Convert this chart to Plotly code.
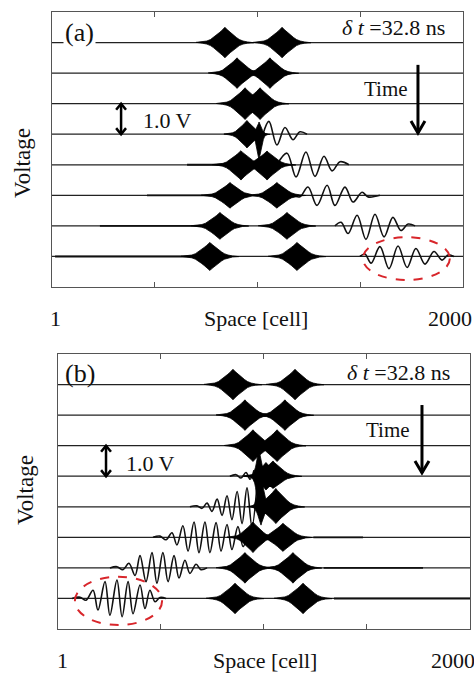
import plotly.graph_objects as go

W, H = 474, 673
FONT = "Liberation Serif"
SPACE_RANGE = [1, 2000]
V_RANGE = [-8.0, 1.0]
TICK_CELLS = [1, 500, 1000, 1500, 2000]
N_TRACES = 8

# generic envelope of a high-frequency pulse (offset in cells, relative amplitude)
PULSE_DX = [0, 8, 16, 28, 42, 56, 70, 88, 110, 140]
PULSE_ENV = [1.0, 0.88, 0.78, 0.64, 0.48, 0.33, 0.2, 0.1, 0.04, 0.012]

# ---------------- panel (a) ----------------
A_PULSE_TRACE = [0, 0, 1, 1, 2, 2, 3, 3, 4, 4, 5, 5, 6, 6, 7, 7]
A_PULSE_CENTER = [842, 1120, 901, 1061, 940, 1013, 949, 1008, 920, 1047, 867, 1095, 818, 1144, 769, 1193]
A_PULSE_UP = [0.5, 0.5, 0.5, 0.5, 0.52, 0.52, 0.45, 0.4, 0.46, 0.45, 0.42, 0.42, 0.44, 0.44, 0.46, 0.46]
A_PULSE_DOWN = [0.5, 0.5, 0.5, 0.5, 0.52, 0.52, 0.45, 0.85, 0.5, 0.5, 0.42, 0.42, 0.44, 0.44, 0.46, 0.46]
A_PULSE_WIDTH = [1, 1, 1, 1, 1, 1, 0.8, 0.3, 1, 1, 1, 1, 1, 1, 1, 1]

A_WAVE_TRACE = [3, 4, 5, 6, 7]
A_WAVE_X = [
    [1027, 1056, 1095, 1134, 1173, 1207, 1241],
    [1095, 1144, 1188, 1236, 1280, 1324, 1363, 1402, 1445],
    [1173, 1207, 1246, 1290, 1339, 1377, 1426, 1465, 1509, 1538, 1596],
    [1377, 1407, 1441, 1485, 1528, 1572, 1616, 1659, 1698, 1733, 1767],
    [1499, 1523, 1553, 1596, 1640, 1684, 1728, 1771, 1815, 1859, 1898, 1927, 1956],
]
A_WAVE_V = [
    [0, 0.42, -0.35, 0.22, -0.18, 0.08, 0],
    [0, 0.38, -0.4, 0.42, -0.38, 0.28, -0.2, 0.1, 0],
    [0, -0.05, 0.27, -0.33, 0.33, -0.33, 0.27, -0.22, 0.1, -0.05, 0],
    [0, 0.12, -0.25, 0.35, -0.44, 0.38, -0.36, 0.28, -0.15, 0.06, 0],
    [0, 0.08, -0.22, 0.32, -0.4, 0.34, -0.36, 0.26, -0.25, 0.16, -0.12, 0.05, 0],
]
A_NOISE_TRACE = [4, 5, 6, 7]
A_NOISE_START = [658, 463, 234, 16]
A_NOISE_END = [880, 830, 780, 730]

# ---------------- panel (b) ----------------
B_PULSE_TRACE = [0, 0, 1, 1, 2, 2, 3, 3, 3, 4, 4, 5, 5, 6, 6, 7, 7]
B_PULSE_CENTER = [850, 1151, 908, 1102, 947, 1064, 976, 1010, 1044, 986, 1058, 947, 1093, 908, 1141, 860, 1190]
B_PULSE_UP = [0.5, 0.5, 0.5, 0.5, 0.52, 0.52, 0.9, 0.45, 0.5, 1.0, 0.6, 0.5, 0.46, 0.5, 0.5, 0.5, 0.5]
B_PULSE_DOWN = [0.5, 0.5, 0.5, 0.5, 0.52, 0.52, 1.1, 0.45, 0.4, 0.6, 0.55, 0.5, 0.46, 0.5, 0.5, 0.5, 0.5]
B_PULSE_WIDTH = [1, 1, 1, 1, 1, 1, 0.3, 0.8, 1, 0.35, 1, 0.9, 1, 1, 1, 1, 1]

B_WAVE_TRACE = [3, 4, 5, 6, 7]
B_WAVE_X = [
    [835, 865, 889, 913, 933, 952],
    [641, 675, 700, 724, 748, 773, 797, 821, 845, 870, 894, 918, 942, 967],
    [462, 496, 525, 554, 578, 607, 632, 661, 685, 714, 738, 768, 792, 821, 845, 874, 899, 923],
    [253, 287, 316, 345, 375, 399, 428, 457, 481, 510, 535, 564, 588, 617, 641, 671, 695, 724],
    [69, 108, 137, 171, 195, 229, 253, 287, 312, 341, 365, 399, 423, 447, 472, 496, 525],
]
B_WAVE_V = [
    [0, 0.05, -0.06, 0.12, -0.1, 0.2],
    [0, 0.03, -0.05, 0.12, -0.15, 0.25, -0.28, 0.36, -0.42, 0.5, -0.55, 0.62, -0.65, 0.75],
    [0, 0.04, -0.08, 0.15, -0.25, 0.38, -0.45, 0.5, -0.5, 0.5, -0.5, 0.48, -0.45, 0.42, -0.4, 0.35, -0.3, 0.2],
    [0, 0.04, -0.06, 0.15, -0.25, 0.4, -0.45, 0.5, -0.5, 0.5, -0.45, 0.4, -0.33, 0.25, -0.18, 0.12, -0.06, 0],
    [0, 0.04, -0.06, 0.27, -0.38, 0.55, -0.55, 0.6, -0.6, 0.55, -0.5, 0.44, -0.33, 0.27, -0.11, 0.03, 0],
]
B_NOISE_TRACE = [5, 6, 7]
B_NOISE_START = [1240, 1290, 1340]
B_NOISE_END = [1481, 1772, 2000]

# annotation marks (data coordinates of each panel)
A_TIME_ARROW = dict(x=1781, y0=-0.73, y1=-2.96)
B_TIME_ARROW = dict(x=1767, y0=-0.67, y1=-2.89)
A_SCALE_ARROW = dict(x=337, y0=-2.0, y1=-3.0)
B_SCALE_ARROW = dict(x=234, y0=-2.0, y1=-3.0)
A_ELLIPSE = dict(x0=1513, x1=1936, y0=-7.77, y1=-6.37)
B_ELLIPSE = dict(x0=83, x1=506, y0=-7.87, y1=-6.29)

fig = go.Figure()


def pulse_xy(center, up, down, width, base):
    dx_full = [-d for d in reversed(PULSE_DX[1:])] + PULSE_DX
    env_full = list(reversed(PULSE_ENV[1:])) + PULSE_ENV
    xu = [center + d * width * 1.0 for d in dx_full]
    yu = [base + up * e for e in env_full]
    yl = [base - down * e for e in env_full]
    return xu + xu[::-1] + [xu[0]], yu + yl[::-1] + [yu[0]]


def add_panel(xa, ya, p_tr, p_c, p_up, p_dn, p_w, w_tr, w_x, w_v, n_tr, n_s, n_e):
    # baselines
    bx, by = [], []
    for i in range(N_TRACES):
        bx += [SPACE_RANGE[0], SPACE_RANGE[1], None]
        by += [-i, -i, None]
    fig.add_trace(go.Scatter(x=bx, y=by, mode="lines", line=dict(color="#222", width=1.3),
                             xaxis=xa, yaxis=ya, hoverinfo="skip", showlegend=False))
    # noise
    nx, ny = [], []
    for t, s, e in zip(n_tr, n_s, n_e):
        nx += [s, e, None]
        ny += [-t, -t, None]
    fig.add_trace(go.Scatter(x=nx, y=ny, mode="lines", line=dict(color="#111", width=1.9),
                             xaxis=xa, yaxis=ya, hoverinfo="skip", showlegend=False))
    # waves
    for t, xs, vs in zip(w_tr, w_x, w_v):
        fig.add_trace(go.Scatter(x=xs, y=[v - t for v in vs], mode="lines",
                                 line=dict(color="#111", width=1.6, shape="spline", smoothing=1.0),
                                 xaxis=xa, yaxis=ya, hoverinfo="skip", showlegend=False))
    # pulses
    px, py = [], []
    for t, c, u, d, w in zip(p_tr, p_c, p_up, p_dn, p_w):
        x, y = pulse_xy(c, u, d, w, -t)
        px += x + [None]
        py += y + [None]
    fig.add_trace(go.Scatter(x=px, y=py, mode="lines", fill="toself", fillcolor="black",
                             line=dict(color="black", width=0.8),
                             xaxis=xa, yaxis=ya, hoverinfo="skip", showlegend=False))


add_panel("x", "y", A_PULSE_TRACE, A_PULSE_CENTER, A_PULSE_UP, A_PULSE_DOWN, A_PULSE_WIDTH,
          A_WAVE_TRACE, A_WAVE_X, A_WAVE_V, A_NOISE_TRACE, A_NOISE_START, A_NOISE_END)
add_panel("x2", "y2", B_PULSE_TRACE, B_PULSE_CENTER, B_PULSE_UP, B_PULSE_DOWN, B_PULSE_WIDTH,
          B_WAVE_TRACE, B_WAVE_X, B_WAVE_V, B_NOISE_TRACE, B_NOISE_START, B_NOISE_END)

xax = dict(range=SPACE_RANGE, showgrid=False, zeroline=False, showline=True, mirror="ticks",
           linecolor="#555", linewidth=1, ticks="inside", ticklen=5, tickcolor="#555",
           tickvals=TICK_CELLS, showticklabels=False, fixedrange=True)
yax = dict(range=V_RANGE, showgrid=False, zeroline=False, showline=True, mirror=True,
           linecolor="#555", linewidth=1, ticks="", showticklabels=False, fixedrange=True)

fig.update_layout(
    width=W, height=H, margin=dict(l=0, r=0, t=0, b=0),
    paper_bgcolor="white", plot_bgcolor="white", showlegend=False,
    xaxis=dict(xax, domain=[52 / W, 463 / W], anchor="y"),
    yaxis=dict(yax, domain=[1 - 287 / H, 1 - 12 / H], anchor="x"),
    xaxis2=dict(xax, domain=[58 / W, 470 / W], anchor="y2"),
    yaxis2=dict(yax, domain=[1 - 629 / H, 1 - 354 / H], anchor="x2"),
)


def txt(x, y, s, size, **kw):
    fig.add_annotation(x=x / W, y=1 - y / H, xref="paper", yref="paper", text=s,
                       showarrow=False, xanchor="center", yanchor="middle",
                       font=dict(family=FONT, size=size, color="#111"), **kw)


# panel (a) texts
txt(79, 32, "(a)", 26, bgcolor="white")
txt(393, 28, "<i>δ t</i> =32.8 ns", 22)
txt(386, 89, "Time", 21)
txt(167, 120, "1.0 V", 22)
txt(22, 163, "Voltage", 23, textangle=-90)
txt(55, 318, "1", 22)
txt(256, 318, "Space [cell]", 22)
txt(450, 318, "2000", 22)
# panel (b) texts
txt(80, 373, "(b)", 26)
txt(398, 372, "<i>δ t</i> =32.8 ns", 22)
txt(388, 430, "Time", 21)
txt(150, 463, "1.0 V", 22)
txt(25, 490, "Voltage", 23, textangle=-90)
txt(63, 660, "1", 22)
txt(265, 660, "Space [cell]", 22)
txt(453, 660, "2000", 22)


def arrow(xr, yr, a, dx, dy, both, width):
    fig.add_shape(type="line", xref=xr, yref=yr, x0=a["x"], x1=a["x"], y0=a["y0"], y1=a["y1"],
                  line=dict(color="black", width=width))
    x, y1 = a["x"], a["y1"]
    fig.add_shape(type="path", xref=xr, yref=yr,
                  path=f"M {x - dx},{y1 + dy} L {x},{y1} L {x + dx},{y1 + dy}",
                  line=dict(color="black", width=width))
    if both:
        y0 = a["y0"]
        fig.add_shape(type="path", xref=xr, yref=yr,
                      path=f"M {x - dx},{y0 - dy} L {x},{y0} L {x + dx},{y0 - dy}",
                      line=dict(color="black", width=width))


arrow("x", "y", A_TIME_ARROW, 34, 0.39, False, 3)
arrow("x2", "y2", B_TIME_ARROW, 34, 0.39, False, 3)
arrow("x", "y", A_SCALE_ARROW, 24, 0.2, True, 2.5)
arrow("x2", "y2", B_SCALE_ARROW, 24, 0.2, True, 2.5)

for xr, yr, e in (("x", "y", A_ELLIPSE), ("x2", "y2", B_ELLIPSE)):
    fig.add_shape(type="circle", xref=xr, yref=yr, x0=e["x0"], x1=e["x1"], y0=e["y0"], y1=e["y1"],
                  line=dict(color="#d8262b", width=2, dash="dash"))

fig.write_html("out.html")
